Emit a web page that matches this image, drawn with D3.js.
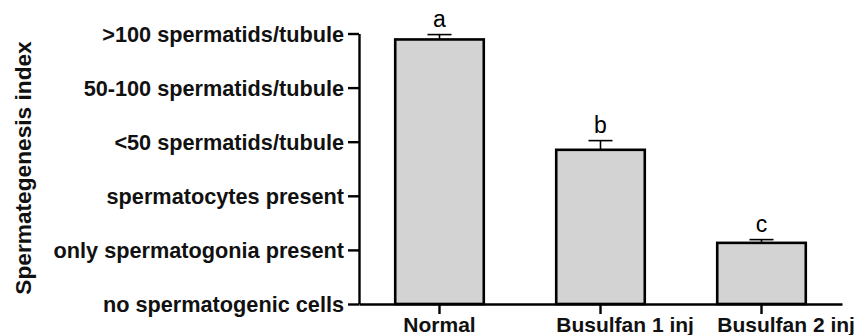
<!DOCTYPE html>
<html>
<head>
<meta charset="utf-8">
<script src="https://cdn.jsdelivr.net/npm/d3@7"></script>
<style>
  html, body { margin: 0; padding: 0; background: #fff; }
  svg { display: block; font-family: "Liberation Sans", Arial, sans-serif; }
</style>
</head>
<body>
<div id="chart"></div>
<script>
const groups = ['Normal', 'Busulfan 1 inj', 'Busulfan 2 inj'];
const means = [4.89, 2.85, 1.13];
const sems = [0.09, 0.17, 0.06];
const letters = ['a', 'b', 'c'];
const indexLabels = [
  'no spermatogenic cells',
  'only spermatogonia present',
  'spermatocytes present',
  '<50 spermatids/tubule',
  '50-100 spermatids/tubule',
  '>100 spermatids/tubule'
];

const W = 861, H = 335;
const svg = d3.select('#chart').append('svg')
  .attr('width', W).attr('height', H);

const x = d3.scaleBand()
  .domain(groups)
  .range([359, 842])
  .paddingInner(0.45)
  .paddingOuter(0.225);

const y = d3.scaleLinear()
  .domain([0, 5])
  .range([304, 33.5]);

// bars
svg.append('g').selectAll('rect')
  .data(groups)
  .join('rect')
    .attr('x', d => x(d))
    .attr('y', (d, i) => y(means[i]))
    .attr('width', x.bandwidth())
    .attr('height', (d, i) => y(0) - y(means[i]))
    .attr('fill', '#d3d3d3')
    .attr('stroke', '#000')
    .attr('stroke-width', 2.6);

// error bars (upper only)
const err = svg.append('g').attr('stroke', '#000').attr('stroke-width', 1.6);
groups.forEach((g, i) => {
  const cx = x(g) + x.bandwidth() / 2;
  err.append('line')
    .attr('x1', cx).attr('x2', cx)
    .attr('y1', y(means[i])).attr('y2', y(means[i] + sems[i]));
  err.append('line')
    .attr('x1', cx - 12).attr('x2', cx + 12)
    .attr('y1', y(means[i] + sems[i])).attr('y2', y(means[i] + sems[i]));
});

// significance letters
svg.append('g').selectAll('text')
  .data(groups)
  .join('text')
    .attr('x', d => x(d) + x.bandwidth() / 2)
    .attr('y', (d, i) => y(means[i] + sems[i]) - 7.6)
    .attr('text-anchor', 'middle')
    .attr('font-size', 23)
    .text((d, i) => letters[i]);

// y axis
const yAxis = svg.append('g')
  .attr('transform', 'translate(359,0)')
  .call(d3.axisLeft(y)
    .tickValues(d3.range(indexLabels.length))
    .tickFormat(i => indexLabels[i])
    .tickSize(11)
    .tickSizeOuter(0));
yAxis.selectAll('.domain, .tick line').attr('stroke', '#000').attr('stroke-width', 2.4);
yAxis.selectAll('.tick text')
  .attr('font-family', '"Liberation Sans", Arial, sans-serif')
  .attr('font-size', 21.7)
  .attr('font-weight', 'bold')
  .attr('fill', '#111')
  .attr('x', -15)
  .attr('dy', '0.36em');

// x axis
const xAxis = svg.append('g')
  .attr('transform', 'translate(0,304)')
  .call(d3.axisBottom(x).tickSize(10).tickSizeOuter(0));
xAxis.selectAll('.domain, .tick line').attr('stroke', '#000').attr('stroke-width', 2.4);
xAxis.selectAll('.tick text')
  .attr('font-family', '"Liberation Sans", Arial, sans-serif')
  .attr('font-size', 21)
  .attr('font-weight', 'bold')
  .attr('fill', '#111')
  .attr('y', 13)
  .attr('dy', '0.71em')
  .each(function(d) {
    // wide labels start at the bar's left edge, short ones stay centred
    const w = this.getComputedTextLength();
    const half = x.bandwidth() / 2;
    if (w / 2 > half) {
      d3.select(this).attr('text-anchor', 'start').attr('x', -half);
    }
  });

// y axis title
svg.append('text')
  .attr('transform', 'translate(31,168) rotate(-90)')
  .attr('text-anchor', 'middle')
  .attr('font-size', 22.7)
  .attr('font-weight', 'bold')
  .attr('fill', '#111')
  .text('Spermategenesis index');
</script>
</body>
</html>
